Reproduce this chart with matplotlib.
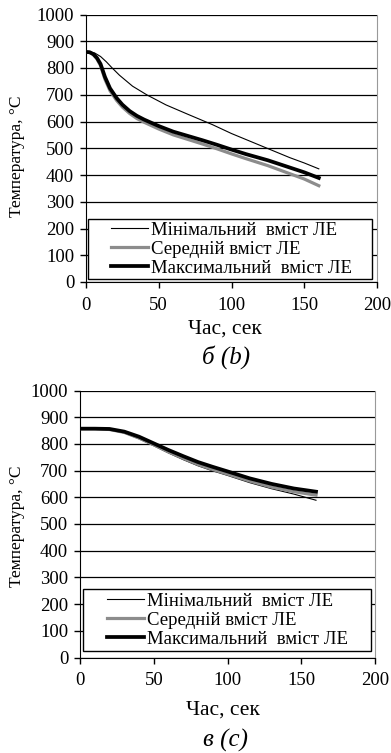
import numpy as np
import matplotlib
matplotlib.use("Agg")
import matplotlib.pyplot as plt
from matplotlib.patches import Rectangle

plt.rcParams['font.family'] = ['Liberation Serif', 'DejaVu Serif']

# б (b): час, сек / температура, °C
tb_min = [0, 3, 6, 10, 14, 18, 23, 32, 42, 55, 70, 87, 100, 112, 124, 140, 150, 160]
b_min = [860, 860, 856, 843, 823, 800, 773, 732, 699, 662, 627, 588, 555, 528, 501, 465, 445, 423]

tb = [0, 2.5, 5, 7.5, 10, 13, 16.5, 21, 25, 30, 35, 40, 50, 60, 70, 80, 90, 100, 110,
      125, 140, 150, 160]
b_max = [860, 859, 852, 838, 815, 767, 724, 688, 663, 639, 621, 607, 583, 562, 546, 530,
         513, 495, 478, 455, 428, 410, 389]
b_mid = [860, 858, 850, 834, 809, 758, 715, 679, 654, 630, 611, 597, 572, 550, 533, 516,
         498, 479, 461, 435, 405, 385, 360]

# в (c)
tc = [0, 10, 20, 30, 40, 50, 60, 70, 80, 90, 100, 115, 130, 145, 160]
c_min = [857, 857, 853, 841, 819, 793, 766, 741, 718, 699, 682, 655, 632, 612, 589]
c_mid = [857, 857, 854, 843, 822, 797, 770, 746, 723, 704, 687, 661, 638, 621, 608]
c_max = [857, 857, 856, 846, 827, 802, 777, 754, 732, 714, 697, 671, 650, 633, 621]

labels = ['Мінімальний  вміст ЛЕ', 'Середній вміст ЛЕ', 'Максимальний  вміст ЛЕ']
captions = ['б (b)', 'в (c)']

W, H = 391, 753
fig = plt.figure(figsize=(W / 100, H / 100), dpi=100)
ax1 = fig.add_axes([86 / W, 1 - 282 / H, 291 / W, 267.5 / H])
ax2 = fig.add_axes([80 / W, 1 - 657.5 / H, 295 / W, 267 / H])


def draw(ax, t1, ymin, t2, ymid, ymax, box, ylab_xy, xlab_xy, caption, cap_y):
    ax.plot(t1, ymin, color='black', lw=0.8, zorder=4)
    ax.plot(t2, ymid, color='#8c8c8c', lw=2.3, zorder=4)
    ax.plot(t2, ymax, color='black', lw=2.7, zorder=4)
    ax.set_xlim(0, 200)
    ax.set_ylim(0, 1000)
    ax.set_xticks(np.arange(0, 201, 50))
    ax.set_yticks(np.arange(0, 1001, 100))
    ax.grid(axis='y', color='black', lw=0.9, zorder=1)
    ax.set_axisbelow(True)
    ax.spines['top'].set_visible(False)
    ax.spines['right'].set_color('#999999')
    ax.tick_params(axis='both', direction='out', length=4.5, width=1.0,
                   labelsize=13.5, pad=4)
    ax.tick_params(axis='x', pad=6)
    ax.set_xlabel('Час, сек', fontsize=15.5)
    ax.xaxis.set_label_coords(*xlab_xy)
    ax.set_ylabel('Температура, °C', fontsize=12.5)
    ax.yaxis.set_label_coords(*ylab_xy)

    # рамка легенди
    x0, y0, x1, y1 = box
    ax.add_patch(Rectangle((x0, y0), x1 - x0, y1 - y0, transform=ax.transAxes,
                           facecolor='white', edgecolor='black', lw=1.0, zorder=3))
    leg = ax.legend(labels, loc='center', bbox_to_anchor=(0.5, (y0 + y1) / 2),
                    frameon=False, fontsize=13.5, handlelength=2.0,
                    handletextpad=0.15, labelspacing=0.1, borderpad=0.0)
    leg.set_zorder(6)

    fig.text(0.578, cap_y, caption, fontsize=18, style='italic',
             ha='center', va='center')


draw(ax1, tb_min, b_min, tb, b_mid, b_max, (0.007, 0.011, 0.983, 0.2355),
     (-0.21, 0.47), (0.478, -0.14), captions[0], 1 - 357 / H)
draw(ax2, tc, c_min, tc, c_mid, c_max, (0.009, 0.025, 0.986, 0.255),
     (-0.186, 0.49), (0.485, -0.163), captions[1], 1 - 740 / H)

fig.savefig('out.png', dpi=100)
